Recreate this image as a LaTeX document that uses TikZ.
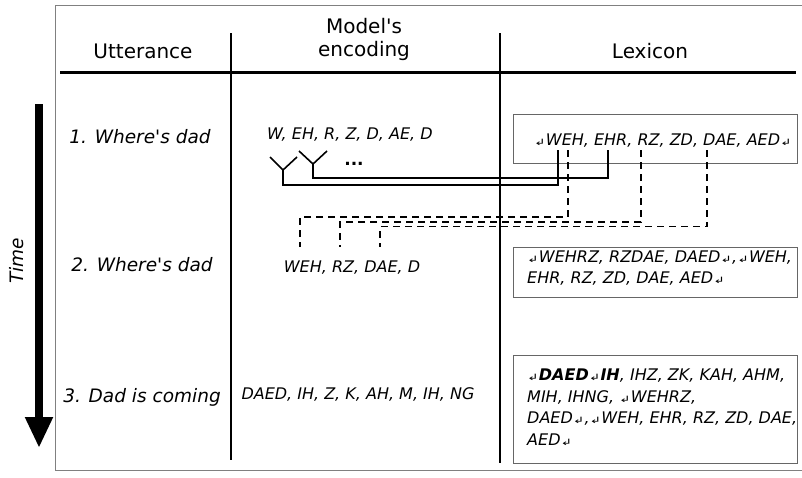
\documentclass[tikz,border=0pt]{standalone}
\usepackage{fontspec}
\setmainfont{DejaVu Sans}[ItalicFont={DejaVu Sans Oblique},BoldFont={DejaVu Sans Bold},BoldItalicFont={DejaVu Sans Bold Oblique}]
\newfontfamily\retfont{DejaVu Sans}
\newfontfamily\obliquefont{DejaVu Sans Oblique}
\usetikzlibrary{arrows.meta}
\newcommand{\lexret}{\scalebox{1}[0.62]{\retfont\fontsize{14}{14}\selectfont ↲}}
\newcommand{\uapos}{{\retfont'}}
\newcommand{\iapos}{{\obliquefont'}}
\tikzset{
  hdr/.style={font=\fontsize{20}{23}\selectfont, align=center, inner sep=0},
  utt/.style={font=\fontsize{18.5}{22}\selectfont\itshape, inner sep=0},
  enc/.style={font=\fontsize{16}{20}\selectfont\itshape, inner sep=0},
  lexbox/.style={draw=black!60, line width=0.9pt, inner sep=0, anchor=north west},
  lextext/.style={font=\fontsize{16}{21.5}\selectfont\itshape, align=left, anchor=west, inner sep=0},
  wire/.style={line width=1.6pt},
  dashwire/.style={line width=1.6pt, dash pattern=on 7pt off 5pt},
  divider/.style={line width=2.6pt},
}
\begin{document}
\begin{tikzpicture}[x=1pt,y=-1pt]
\useasboundingbox (0,0) rectangle (802,477);
% frame
\draw[black!50, line width=0.8pt] (803,5) -- (55,5) -- (55,470) -- (803,470);
% header rule and dividers
\coordinate (hl) at (60,72);
\coordinate (hr) at (796,72);
\draw[line width=3pt] (hl) -- (hr);
\coordinate (v1t) at (231,33);
\coordinate (v1b) at (231,460);
\coordinate (v2t) at (500,33);
\coordinate (v2b) at (500,463);
\draw[divider] (v1t) -- (v1b);
\draw[divider] (v2t) -- (v2b);
% headers
\node[hdr] (hutt) at (143,51) {Utterance};
\node[hdr] (henc) at (364,39) {Model\uapos s\\encoding};
\node[hdr] (hlex) at (650,51) {Lexicon};
% time arrow
\coordinate (ttop) at (39,104);
\coordinate (ttip) at (39,448);
\draw[line width=8pt, -{Triangle[length=31pt,width=26pt]}] (ttop) -- (ttip);
\node[rotate=90, font=\fontsize{18.5}{22}\selectfont\itshape, inner sep=0] (time) at (17,261) {Time};
% utterances
\node[utt] (u1) at (140,137) {1. Where\iapos s dad};
\node[utt] (u2) at (142,265) {2. Where\iapos s dad};
\node[utt] (u3) at (142,397) {3. Dad is coming};
% encodings
\node[enc, anchor=west] (e1) at (267,135) {W, EH, R, Z, D, AE, D};
\node[enc] (e2) at (352,268) {WEH, RZ, DAE, D};
\node[enc] (e3) at (358,394) {DAED, IH, Z, K, AH, M, IH, NG};
\node[font=\bfseries\fontsize{17}{20}\selectfont, inner sep=0] (dots) at (354,164) {...};
% lexicon boxes
\node[lexbox, minimum width=284pt, minimum height=49pt] (box1) at (513,114) {};
\node[lexbox, minimum width=284pt, minimum height=50pt] (box2) at (513,247) {};
\node[lexbox, minimum width=284pt, minimum height=108pt] (box3) at (513,355) {};
\node[lextext] (lex1) at (534,141) {\lexret WEH, EHR, RZ, ZD, DAE, AED\lexret};
\node[lextext] (lex2) at (527,268) {\lexret WEHRZ, RZDAE, DAED\lexret,\lexret WEH,\\EHR, RZ, ZD, DAE, AED\lexret};
\node[lextext] (lex3) at (527,407) {\lexret\textbf{DAED}\lexret\textbf{IH}, IHZ, ZK, KAH, AHM,\\MIH, IHNG, \lexret WEHRZ,\\DAED\lexret,\lexret WEH, EHR, RZ, ZD, DAE,\\AED\lexret};
% forks (solid)
\coordinate (y1l) at (270,157);
\coordinate (y1r) at (297,157);
\coordinate (y1m) at (283,170);
\coordinate (y1b) at (283,185);
\coordinate (y2l) at (299,151);
\coordinate (y2r) at (327,151);
\coordinate (y2m) at (313,164);
\coordinate (y2b) at (313,178);
\coordinate (b1a) at (558,150);
\coordinate (b1b) at (608,150);
\draw[wire] (y1l) -- (y1m) -- (y1r);
\draw[wire] (y1m) -- (y1b) -| (b1a);
\draw[wire] (y2l) -- (y2m) -- (y2r);
\draw[wire] (y2m) -- (y2b) -| (b1b);
% dashed links
\coordinate (d1s) at (568,150);
\coordinate (d2s) at (641,150);
\coordinate (d3s) at (707,150);
\coordinate (d1e) at (300,247);
\coordinate (d2e) at (340,247);
\coordinate (d3e) at (380,247);
\coordinate (h1) at (0,217);
\coordinate (h2) at (0,222);
\coordinate (h3) at (0,226.5);
\draw[dashwire] (d1s) -- (d1s |- h1) -| (d1e);
\draw[dashwire] (d2s) -- (d2s |- h2) -| (d2e);
\draw[dashwire] (d3s) -- (d3s |- h3) -| (d3e);
\end{tikzpicture}
\end{document}
